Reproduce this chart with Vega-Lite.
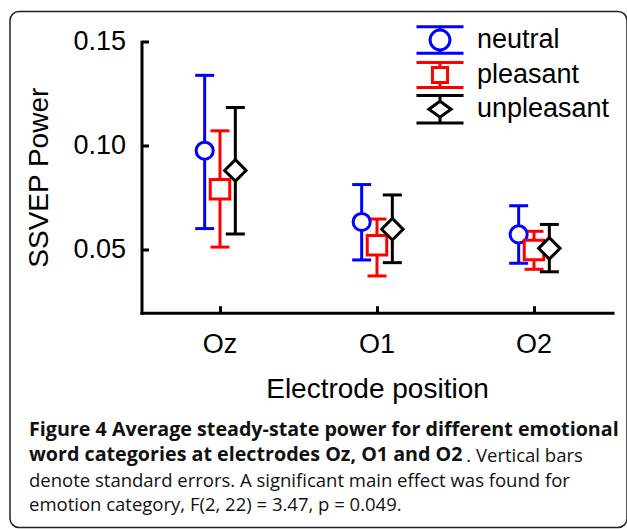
{
  "$schema": "https://vega.github.io/schema/vega-lite/v6.json",
  "width": 617,
  "height": 516,
  "autosize": "none",
  "padding": {"left": 10, "top": 11.5, "right": 0, "bottom": 1.5},
  "background": "white",
  "config": {
    "view": {"stroke": "#222222", "strokeWidth": 1.5, "cornerRadius": 9}
  },
  "title": {
    "text": ["Figure 4 Average steady-state power for different emotional", "word categories at electrodes Oz, O1 and O2"],
    "subtitle": ["\u200b\u00a0\u00a0\u00a0\u00a0\u00a0\u00a0\u00a0\u00a0\u00a0\u00a0\u00a0\u00a0\u00a0\u00a0\u00a0\u00a0\u00a0\u00a0\u00a0\u00a0\u00a0\u00a0\u00a0\u00a0\u00a0\u00a0\u00a0\u00a0\u00a0\u00a0\u00a0\u00a0\u00a0\u00a0\u00a0\u00a0\u00a0\u00a0\u00a0\u00a0\u00a0\u00a0\u00a0\u00a0\u00a0\u00a0\u00a0\u00a0\u00a0\u00a0\u00a0\u00a0\u00a0\u00a0\u00a0\u00a0\u00a0\u00a0\u00a0\u00a0\u00a0\u00a0\u00a0\u00a0\u00a0\u00a0\u00a0\u00a0\u00a0\u00a0\u00a0\u00a0\u00a0\u00a0\u00a0\u00a0\u00a0\u00a0\u00a0\u00a0\u00a0\u00a0\u00a0\u00a0\u00a0\u00a0\u00a0\u00a0\u00a0\u00a0\u00a0. Vertical bars", "denote standard errors. A significant main effect was found for", "emotion category, F(2, 22) = 3.47, p = 0.049."],
    "orient": "bottom",
    "anchor": "start",
    "frame": "group",
    "offset": -107.5,
    "dx": 19,
    "font": "Open Sans",
    "fontSize": 19.7,
    "fontWeight": "bold",
    "color": "#111111",
    "lineHeight": 24.5,
    "subtitleFont": "Open Sans",
    "subtitleFontSize": 18.5,
    "subtitleFontWeight": "normal",
    "subtitleColor": "#111111",
    "subtitleLineHeight": 24.5,
    "subtitlePadding": -17
  },
  "data": {
    "values": [
      {"electrode": "Oz", "emotion": "neutral", "mean": 0.0975, "lo": 0.060, "hi": 0.1338},
      {"electrode": "Oz", "emotion": "pleasant", "mean": 0.079, "lo": 0.0511, "hi": 0.1071},
      {"electrode": "Oz", "emotion": "unpleasant", "mean": 0.088, "lo": 0.0574, "hi": 0.1183},
      {"electrode": "O1", "emotion": "neutral", "mean": 0.0632, "lo": 0.0449, "hi": 0.0812},
      {"electrode": "O1", "emotion": "pleasant", "mean": 0.052, "lo": 0.0372, "hi": 0.0646},
      {"electrode": "O1", "emotion": "unpleasant", "mean": 0.0597, "lo": 0.0436, "hi": 0.0762},
      {"electrode": "O2", "emotion": "neutral", "mean": 0.0572, "lo": 0.0433, "hi": 0.071},
      {"electrode": "O2", "emotion": "pleasant", "mean": 0.0497, "lo": 0.0404, "hi": 0.0587},
      {"electrode": "O2", "emotion": "unpleasant", "mean": 0.0505, "lo": 0.0392, "hi": 0.062}
    ]
  },
  "encoding": {
    "x": {
      "field": "electrode",
      "type": "nominal",
      "sort": ["Oz", "O1", "O2"],
      "scale": {"type": "band", "range": [131.5, 602.5], "paddingInner": 0, "paddingOuter": 0},
      "axis": {
        "title": "Electrode position",
        "titleFont": "Liberation Sans",
        "titleFontSize": 28,
        "titleFontWeight": "normal",
        "titleColor": "black",
        "titlePadding": 18,
        "labelFont": "Liberation Sans",
        "labelFontSize": 27,
        "labelColor": "black",
        "labelAngle": 0,
        "labelPadding": 26,
        "bandPosition": 0.5,
        "tickSize": -7,
        "tickWidth": 3,
        "tickColor": "black",
        "domainWidth": 3,
        "domainColor": "black",
        "domainCap": "square",
        "grid": false,
        "offset": -214.8
      }
    },
    "xOffset": {
      "field": "emotion",
      "type": "nominal",
      "sort": ["neutral", "pleasant", "unpleasant"],
      "scale": {"type": "point", "range": [55.5, 101.5]}
    },
    "color": {
      "field": "emotion",
      "type": "nominal",
      "sort": ["neutral", "pleasant", "unpleasant"],
      "scale": {"domain": ["neutral", "pleasant", "unpleasant"], "range": ["#0000ff", "#ff0000", "#000000"]},
      "legend": {
        "orient": "none",
        "legendX": 414.5,
        "legendY": 13,
        "title": null,
        "padding": 0,
        "symbolSize": 784,
        "symbolStrokeWidth": 3,
        "symbolOpacity": 1,
        "labelFont": "Liberation Sans",
        "labelFontSize": 27,
        "labelColor": "black",
        "labelOffset": 21.5,
        "rowPadding": -4.8,
        "labelLimit": 300
      }
    }
  },
  "layer": [
    {
      "mark": {"type": "rule", "strokeWidth": 3},
      "encoding": {
        "y": {
          "field": "lo",
          "type": "quantitative",
          "scale": {"domain": [0.0195, 0.15], "range": [301.2, 30.2], "nice": false, "zero": false},
          "axis": {
            "title": "SSVEP Power",
            "titleFont": "Liberation Sans",
            "titleFontSize": 28,
            "titleFontWeight": "normal",
            "titleColor": "black",
            "titlePadding": 19,
            "values": [0.05, 0.1, 0.15],
            "format": ".2f",
            "labelFont": "Liberation Sans",
            "labelFontSize": 27,
            "labelColor": "black",
            "labelPadding": 23,
            "tickSize": -7,
            "tickWidth": 3,
            "tickColor": "black",
            "domainWidth": 3,
            "domainColor": "black",
            "domainCap": "square",
            "grid": false,
            "offset": -131.5
          }
        },
        "y2": {"field": "hi"}
      }
    },
    {
      "mark": {"type": "tick", "orient": "horizontal", "filled": false, "size": 16, "thickness": 0.01, "strokeWidth": 3, "opacity": 1},
      "encoding": {"y": {"field": "lo", "type": "quantitative"}}
    },
    {
      "mark": {"type": "tick", "orient": "horizontal", "filled": false, "size": 16, "thickness": 0.01, "strokeWidth": 3, "opacity": 1},
      "encoding": {"y": {"field": "hi", "type": "quantitative"}}
    },
    {
      "transform": [{"filter": "datum.emotion === 'neutral'"}],
      "mark": {"type": "point", "shape": "circle", "size": 292, "filled": false, "fill": "white", "strokeWidth": 3, "opacity": 1},
      "encoding": {"y": {"field": "mean", "type": "quantitative"}}
    },
    {
      "transform": [{"filter": "datum.emotion === 'pleasant'"}],
      "mark": {"type": "point", "shape": "square", "size": 380, "filled": false, "fill": "white", "strokeWidth": 3, "opacity": 1},
      "encoding": {"y": {"field": "mean", "type": "quantitative"}}
    },
    {
      "transform": [{"filter": "datum.emotion === 'unpleasant'"}],
      "mark": {"type": "point", "shape": "diamond", "size": 460, "filled": false, "fill": "white", "strokeWidth": 3, "opacity": 1},
      "encoding": {"y": {"field": "mean", "type": "quantitative"}}
    },
    {
      "mark": {"type": "point", "filled": false, "size": 784, "strokeWidth": 3, "opacity": 0},
      "encoding": {
        "y": {"field": "mean", "type": "quantitative"},
        "shape": {
          "field": "emotion",
          "type": "nominal",
          "scale": {
            "domain": ["neutral", "pleasant", "unpleasant"],
            "range": [
              "M-1.68,-0.95L1.68,-0.95M-1.68,0.95L1.68,0.95M0,-0.95L0,-0.71M0,0.71L0,0.95M-0.71,0A0.71,0.71 0 1,0 0.71,0A0.71,0.71 0 1,0 -0.71,0Z",
              "M-1.68,-0.89L1.68,-0.89M-1.68,0.89L1.68,0.89M0,-0.89L0,-0.54M0,0.54L0,0.89M-0.54,-0.54L0.54,-0.54L0.54,0.54L-0.54,0.54Z",
              "M-1.68,-0.98L1.68,-0.98M-1.68,0.98L1.68,0.98M0,-0.98L0,-0.57M0,0.57L0,0.98M-0.79,0L0,-0.57L0.79,0L0,0.57Z"
            ]
          },
          "legend": {
            "orient": "none",
            "legendX": 414.5,
            "legendY": 13,
            "title": null,
            "padding": 0,
            "symbolSize": 784,
            "symbolStrokeWidth": 3,
            "symbolOpacity": 1,
            "labelFont": "Liberation Sans",
            "labelFontSize": 27,
            "labelColor": "black",
            "labelOffset": 21.5,
            "rowPadding": -4.8,
            "labelLimit": 300
          }
        }
      }
    }
  ]
}
